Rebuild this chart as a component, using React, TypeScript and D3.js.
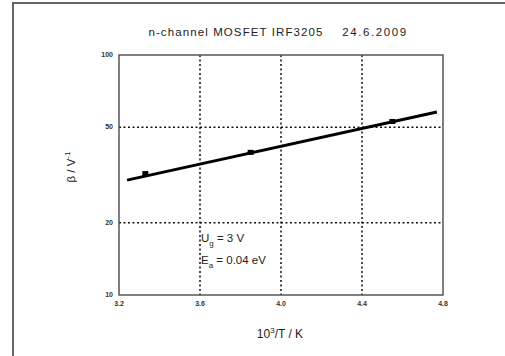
import React, { useEffect, useRef } from "react";
import * as d3 from "d3";

// measured points (10^3/T in 1/K, beta in 1/V)
const invT = [3.33, 3.85, 4.55];
const beta = [31.9, 39.1, 52.6];
// fitted Arrhenius line end points
const fitInvT = [3.24, 4.77];
const fitBeta = [30.1, 57.9];

const xTicks = [3.2, 3.6, 4.0, 4.4, 4.8];
const yTicks = [10, 20, 50, 100];

const W = 505;
const H = 356;
const margin = { left: 119, top: 55, right: 62, bottom: 61 };
const font = "Liberation Sans, Arial, sans-serif";

export default function App() {
  const ref = useRef<SVGSVGElement>(null);

  useEffect(() => {
    const svg = d3.select(ref.current);
    svg.selectAll("*").remove();

    const width = W - margin.left - margin.right;
    const height = H - margin.top - margin.bottom;

    // outer frame (cut off at right and bottom in the original)
    svg.append("rect")
      .attr("x", 13).attr("y", 3)
      .attr("width", W + 10).attr("height", H + 10)
      .attr("fill", "none").attr("stroke", "#666").attr("stroke-width", 2);

    const g = svg.append("g")
      .attr("transform", `translate(${margin.left}, ${margin.top})`);

    const x = d3.scaleLinear().domain([3.2, 4.8]).range([0, width]);
    const y = d3.scaleLog().domain([10, 100]).range([height, 0]);

    // dotted grid
    g.selectAll(".gx")
      .data(xTicks.slice(1, -1))
      .enter().append("line")
      .attr("x1", d => x(d)).attr("x2", d => x(d))
      .attr("y1", 0).attr("y2", height)
      .attr("stroke", "#111").attr("stroke-width", 1.5)
      .attr("stroke-dasharray", "2,2.5");
    g.selectAll(".gy")
      .data(yTicks.slice(1, -1))
      .enter().append("line")
      .attr("y1", d => y(d)).attr("y2", d => y(d))
      .attr("x1", 0).attr("x2", width)
      .attr("stroke", "#111").attr("stroke-width", 1.5)
      .attr("stroke-dasharray", "2,2.5");

    // plot box
    g.append("rect")
      .attr("width", width).attr("height", height)
      .attr("fill", "none").attr("stroke", "#555").attr("stroke-width", 1.5);

    // tick labels
    g.selectAll(".xt")
      .data(xTicks)
      .enter().append("text")
      .attr("x", d => x(d)).attr("y", height + 11)
      .attr("text-anchor", "middle")
      .attr("font-size", 7).attr("font-family", font)
      .attr("font-weight", "bold").attr("fill", "#333")
      .text(d => d.toFixed(1));
    g.selectAll(".yt")
      .data(yTicks)
      .enter().append("text")
      .attr("x", -6).attr("y", d => y(d) + 2)
      .attr("text-anchor", "end")
      .attr("font-size", 7).attr("font-family", font)
      .attr("font-weight", "bold").attr("fill", "#333")
      .text(d => d);

    // fit line
    const line = d3.line<number>()
      .x((d, i) => x(fitInvT[i]))
      .y(d => y(d));
    g.append("path")
      .datum(fitBeta)
      .attr("d", line)
      .attr("fill", "none").attr("stroke", "#000").attr("stroke-width", 3);

    // data points
    g.selectAll(".pt")
      .data(beta)
      .enter().append("rect")
      .attr("x", (d, i) => x(invT[i]) - 3).attr("y", d => y(d) - 3)
      .attr("width", 6).attr("height", 5)
      .attr("fill", "#000");

    // title
    svg.append("text")
      .attr("x", 236).attr("y", 36).attr("text-anchor", "middle")
      .attr("font-size", 11.5).attr("letter-spacing", 1.1)
      .attr("font-family", font).attr("fill", "#222")
      .text("n-channel MOSFET IRF3205");
    svg.append("text")
      .attr("x", 375).attr("y", 36).attr("text-anchor", "middle")
      .attr("font-size", 11.5).attr("letter-spacing", 1.6)
      .attr("font-family", font).attr("fill", "#222")
      .text("24.6.2009");

    // annotations
    const ug = g.append("text")
      .attr("x", x(3.6) + 1).attr("y", y(20) + 19)
      .attr("font-size", 11.5).attr("font-family", font).attr("fill", "#222");
    ug.append("tspan").text("U");
    ug.append("tspan").attr("dy", 4).attr("font-size", 8).text("g");
    ug.append("tspan").attr("dy", -4).text(" = 3 V");
    const ea = g.append("text")
      .attr("x", x(3.6) + 1).attr("y", y(20) + 41)
      .attr("font-size", 11.5).attr("font-family", font).attr("fill", "#222");
    ea.append("tspan").text("E");
    ea.append("tspan").attr("dy", 4).attr("font-size", 8).text("a");
    ea.append("tspan").attr("dy", -4).text(" = 0.04 eV");

    // axis labels
    const xl = svg.append("text")
      .attr("x", 280).attr("y", 338)
      .attr("text-anchor", "middle")
      .attr("font-size", 12).attr("font-family", font).attr("fill", "#222");
    xl.append("tspan").text("10");
    xl.append("tspan").attr("dy", -5).attr("font-size", 8).text("3");
    xl.append("tspan").attr("dy", 5).text("/T  / K");

    const yl = svg.append("text")
      .attr("transform", "translate(75, 167) rotate(-90)")
      .attr("text-anchor", "middle")
      .attr("font-size", 11.5).attr("font-family", font).attr("fill", "#222");
    yl.append("tspan").text("β / V");
    yl.append("tspan").attr("dy", -5).attr("font-size", 8).text("-1");
  }, []);

  return (
    <svg ref={ref} width={W} height={H}
      style={{ position: "absolute", left: 0, top: 0, background: "#fff" }} />
  );
}
